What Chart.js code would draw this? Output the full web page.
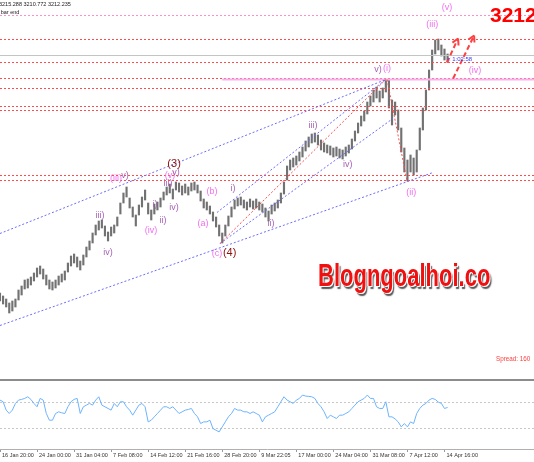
<!DOCTYPE html>
<html>
<head>
<meta charset="utf-8">
<script src="https://cdn.jsdelivr.net/npm/chart.js@4.4.1/dist/chart.umd.min.js"></script>
<style>
  html, body { margin: 0; padding: 0; background: #fff; }
  #wrap { position: relative; width: 534px; height: 462px; overflow: hidden; font-family: "Liberation Sans", Arial, sans-serif; }
  canvas { position: absolute; left: 0; }
  #priceChart { top: 0; }
  #oscChart { top: 381px; }
  #sep { position: absolute; left: 0; top: 379px; width: 534px; height: 2px; background: #8c8c8c; }
  .txt { position: absolute; white-space: nowrap; }
  #logo { left: 318px; top: 258px; font-weight: bold; font-size: 22px; color: #f01010; transform: scale(1, 1.4); transform-origin: left top;
          text-shadow: 1px 1px 0 #fff, -1px 0 0 #fff, 2px 2px 1px #555; }
</style>
</head>
<body>
<div id="wrap">
  <canvas id="priceChart" width="534" height="379"></canvas>
  <div id="sep"></div>
  <canvas id="oscChart" width="534" height="81"></canvas>
  <div class="txt" style="left:-1px;top:1px;font-size:5.5px;color:#222">3215.288 3210.772 3212.235</div>
  <div class="txt" style="left:-19px;top:9px;font-size:5.5px;color:#222">Time to bar end</div>
  <div class="txt" style="left:490px;top:3px;font-size:21px;font-weight:bold;color:#ff0000">3212.23</div>
  <div class="txt" style="left:496px;top:355px;font-size:6.3px;color:#ff3c3c">Spread: 160</div>
  <div class="txt" id="logo">Blogngoalhoi.co</div>
</div>
<script>
// XAUUSD H4, 16 Jan - 14 Apr
const timeLabels = ["16 Jan 20:00", "24 Jan 00:00", "31 Jan 04:00", "7 Feb 08:00", "14 Feb 12:00", "21 Feb 16:00",
  "28 Feb 20:00", "9 Mar 22:05", "17 Mar 00:00", "24 Mar 04:00", "31 Mar 08:00", "7 Apr 12:00", "14 Apr 16:00"];

const highs = [2736,2730,2724,2716,2720,2724,2742,2750,2762,2764, 2768,2776,2786,2790,2784,2772,2762,2758,2762,2770,
  2774,2780,2796,2810,2814,2808,2800,2812,2828,2840, 2856,2872,2880,2882,2870,2858,2868,2872,2888,2916,
  2936,2948,2926,2908,2892,2912,2928,2942,2916,2902, 2914,2918,2926,2938,2948,2954,2944,2958,2956,2950,
  2954,2948,2956,2958,2952,2940,2924,2918,2910,2898, 2888,2872,2856,2872,2890,2908,2922,2926,2928,2922,
  2918,2924,2920,2924,2918,2914,2906,2900,2912,2916, 2922,2936,2958,2990,3002,3006,3010,3018,3028,3040,
  3048,3054,3056,3052,3042,3036,3032,3030,3026,3028, 3024,3022,3028,3032,3044,3060,3076,3090,3100,3118,
  3130,3142,3148,3140,3146,3162,3164,3122,3118,3102, 3066,3026,3002,3012,3006,3022,3066,3106,3142,3182,
  3222,3242,3244,3232,3224,3214];

const lows = [2720,2714,2708,2696,2700,2708,2722,2732,2744,2746, 2752,2760,2768,2774,2764,2752,2744,2742,2746,2752,
  2758,2762,2778,2790,2796,2788,2782,2792,2808,2822, 2836,2852,2862,2866,2850,2840,2850,2856,2870,2894,
  2916,2928,2906,2888,2870,2892,2908,2922,2894,2882, 2894,2902,2908,2922,2932,2936,2924,2942,2938,2932,
  2936,2932,2940,2942,2936,2920,2906,2902,2894,2880, 2868,2850,2836,2850,2870,2888,2904,2910,2912,2906,
  2902,2908,2904,2906,2902,2898,2888,2880,2894,2900, 2906,2916,2934,2962,2982,2988,2992,3000,3008,3020,
  3028,3036,3038,3032,3022,3018,3016,3012,3008,3010, 3006,3004,3010,3016,3024,3040,3056,3070,3080,3094,
  3110,3118,3126,3118,3126,3138,3106,3072,3092,3062, 3018,2978,2960,2978,2972,2978,3022,3062,3102,3142,
  3182,3214,3222,3210,3202,3198];

const rsi = [73,70.5,58,53,58,68,73,74,75.5,78, 74,68,63,75.5,73,53,43,43,53,55.5,
  54,53,63,70.5,74,75.5,53,63,65.5,68, 65.5,73,78,65.5,63,60.5,58,68,63,70.5,
  70.5,63,58,50.5,58,65.5,68,63,40.5,43, 48,53,58,63,63,60.5,63,58,53,55.5,
  58,59,60.5,53,48,38,40.5,40.5,43,30.5, 28,25.5,33,40.5,48,53,60.5,58,58,55.5,
  55.5,53,55.5,53,50.5,40.5,48,50.5,53,55.5, 63,70.5,78,73,70.5,68,73,75.5,80.5,79,
  78.5,78,75.5,68,63,55.5,45.5,50.5,48,45.5, 50.5,50.5,53,55.5,60.5,65.5,70.5,73,75.5,80.5,
  75.5,75.5,63,60.5,60.5,70.5,48,48,45,40.5, 33,38,33,40.5,38,53,60.5,65.5,68,73,
  75.5,74,70,68,60.5,62];
const rsiLevels = [70, 30];

// drawn objects, in bar index / price
const bidPrice = 3212;
const redLevels = [3244, 3198, 3166, 3146, 3110, 3102, 2972, 2962];
const pinkDotLevel = 3292;
const pinkZone = [72, 3164];
const blueLines = [[0, 2856, 125, 3164], [0, 2672, 140.3, 2978], [70.3, 2898, 125, 3164], [71.3, 2836, 127.3, 3086]];
const redLines = [[71.3, 2836, 125, 3164], [125.4, 3164, 131.9, 2960]];
const arrows = [[144.8, 3198, 148.4, 3246], [146.8, 3166, 153.6, 3252]];
const timer = ["< 1:02:58", 144.8, 3204];
const waveLabels = [
  ["iii)", 32.4, 2892, "minor"], ["iv)", 35, 2818, "minor"], ["(iii)", 37.6, 2966, "inter"], ["v)", 40.5, 2972, "minor"],
  ["(iv)", 48.9, 2862, "inter"], ["i)", 50.2, 2914, "minor"], ["ii)", 52.8, 2882, "minor"], ["iii)", 54.4, 2956, "minor"],
  ["(v)", 55.1, 2972, "inter"], ["v)", 57, 2978, "minor"], ["(3)", 56.4, 2996, "primary"], ["iv)", 56.4, 2908, "minor"],
  ["(a)", 65.8, 2876, "inter"], ["(b)", 68.7, 2940, "inter"], ["i)", 75.5, 2946, "minor"], ["(c)", 70.3, 2815, "inter"],
  ["(4)", 74.4, 2818, "primary"], ["ii)", 87.8, 2876, "minor"], ["iii)", 101.4, 3072, "minor"], ["iv)", 112.7, 2994, "minor"],
  ["v)", 122.5, 3184, "minor"], ["(i)", 125.4, 3186, "inter"], ["(ii)", 133.2, 2938, "inter"], ["(iii)", 140, 3274, "inter"],
  ["(v)", 144.8, 3308, "inter"], ["(iv)", 153.9, 3182, "inter"]
];

const degreeStyle = {
  minor: { color: "#a862b8", font: "9px 'Liberation Sans', Arial" },
  inter: { color: "#f26ef2", font: "9px 'Liberation Sans', Arial" },
  primary: { color: "#8b1010", font: "11px 'Liberation Sans', Arial" }
};

const lastBar = 173;

const objectsPlugin = {
  id: "objects",
  afterDatasetsDraw(chart) {
    const { ctx, chartArea, scales: { x, y } } = chart;
    const px = (v) => x.getPixelForValue(v);
    const py = (v) => Math.round(y.getPixelForValue(v)) + 0.5;
    const seg = (x1, y1, x2, y2) => { ctx.beginPath(); ctx.moveTo(x1, y1); ctx.lineTo(x2, y2); ctx.stroke(); };
    ctx.save();

    // horizontal levels
    ctx.lineWidth = 1;
    ctx.strokeStyle = "#c4c4c4";
    seg(chartArea.left, py(bidPrice), chartArea.right, py(bidPrice));
    ctx.setLineDash([2, 2]);
    ctx.strokeStyle = "#ff8fc8";
    seg(chartArea.left, py(pinkDotLevel), chartArea.right, py(pinkDotLevel));
    ctx.strokeStyle = "#ff4b4b";
    redLevels.forEach((p) => seg(chartArea.left, py(p), chartArea.right, py(p)));
    ctx.setLineDash([]);
    ctx.lineWidth = 2;
    ctx.strokeStyle = "#f6b2f0";
    seg(px(pinkZone[0]), py(pinkZone[1]), chartArea.right, py(pinkZone[1]));

    // trend lines
    ctx.lineWidth = 1;
    ctx.setLineDash([2, 2]);
    ctx.strokeStyle = "#6c6cff";
    blueLines.forEach(([a, p, b, q]) => seg(px(a), py(p), px(b), py(q)));
    ctx.strokeStyle = "#ff4b4b";
    redLines.forEach(([a, p, b, q]) => seg(px(a), py(p), px(b), py(q)));

    // arrows
    ctx.strokeStyle = "#ff4040";
    ctx.lineWidth = 2;
    arrows.forEach(([a, p, b, q]) => {
      const x1 = px(a), y1 = py(p), x2 = px(b), y2 = py(q);
      ctx.setLineDash([5, 3]);
      seg(x1, y1, x2, y2);
      ctx.setLineDash([]);
      const ang = Math.atan2(y2 - y1, x2 - x1);
      [0.5, -0.5].forEach((d) => seg(x2, y2, x2 - 7 * Math.cos(ang + d), y2 - 7 * Math.sin(ang + d)));
    });

    // wave labels
    ctx.textAlign = "center";
    ctx.textBaseline = "middle";
    waveLabels.forEach(([t, b, p, deg]) => {
      ctx.fillStyle = degreeStyle[deg].color;
      ctx.font = degreeStyle[deg].font;
      ctx.fillText(t, px(b), py(p));
    });

    ctx.textAlign = "left";
    ctx.fillStyle = "#3a3aff";
    ctx.font = "6px 'Liberation Sans', Arial";
    ctx.fillText(timer[0], px(timer[1]), py(timer[2]));
    ctx.restore();
  }
};

new Chart(document.getElementById("priceChart"), {
  type: "bar",
  data: {
    datasets: [{
      data: highs.map((h, i) => ({ x: i, y: [lows[i], h] })),
      backgroundColor: "#727272",
      barThickness: 1.5,
      borderWidth: 0
    }]
  },
  options: {
    responsive: false,
    devicePixelRatio: 1,
    animation: false,
    layout: { padding: 0 },
    plugins: { legend: { display: false }, tooltip: { enabled: false } },
    scales: {
      x: { type: "linear", min: 0, max: lastBar, offset: false, display: false },
      y: { min: 2564, max: 3322, display: false }
    }
  },
  plugins: [objectsPlugin]
});

new Chart(document.getElementById("oscChart"), {
  type: "line",
  data: {
    datasets: [{
      data: rsi.map((v, i) => ({ x: i, y: v })),
      borderColor: "#6db3ff",
      borderWidth: 1,
      pointRadius: 0,
      tension: 0
    }]
  },
  options: {
    responsive: false,
    devicePixelRatio: 1,
    animation: false,
    layout: { padding: { top: 1, left: 0, right: 0, bottom: 0 } },
    plugins: { legend: { display: false }, tooltip: { enabled: false } },
    scales: {
      x: {
        type: "linear", min: 0, max: lastBar, offset: false,
        afterBuildTicks: (s) => { s.ticks = s.ticks.filter((t) => t.value % 12 === 0 && t.value / 12 < timeLabels.length); },
        afterFit: (s) => { s.height = 13; },
        grid: { drawOnChartArea: false, drawTicks: true, tickLength: 3, color: "#999" },
        border: { display: true, color: "#b0b0b0" },
        ticks: {
          stepSize: 12, autoSkip: false, maxRotation: 0, align: "start", labelOffset: 2, padding: 0,
          color: "#333", font: { size: 5.5, family: "'Liberation Sans', Arial" },
          callback: (v) => timeLabels[v / 12]
        }
      },
      y: {
        min: 0, max: 100,
        afterBuildTicks: (s) => { s.ticks = rsiLevels.map((v) => ({ value: v })); },
        afterFit: (s) => { s.width = 0; },
        ticks: { display: false },
        grid: { color: "#c8c8c8", drawTicks: false },
        border: { display: false, dash: [2, 2] }
      }
    }
  }
});
</script>
</body>
</html>
